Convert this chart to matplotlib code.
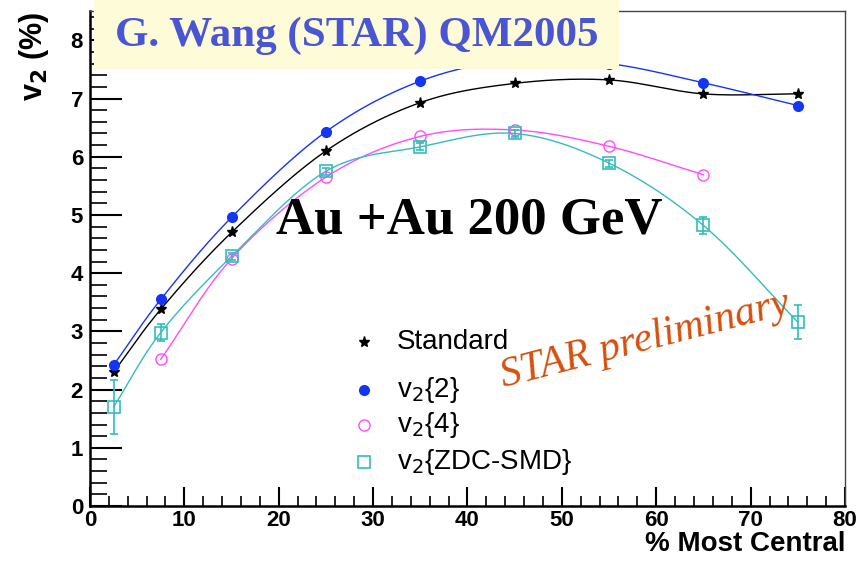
import matplotlib.pyplot as plt
from matplotlib.patches import Rectangle
import numpy as np

# centrality bins (% most central)
cent = [2.5, 7.5, 15, 25, 35, 45, 55, 65, 75]
v2_std = [2.30, 3.38, 4.70, 6.10, 6.93, 7.26, 7.32, 7.08, 7.08]
v2_2 = [2.42, 3.55, 4.96, 6.43, 7.30, 7.66, 7.60, 7.27, 6.88]
cent4 = [7.5, 15, 25, 35, 45, 55, 65]
v2_4 = [2.52, 4.25, 5.65, 6.35, 6.46, 6.18, 5.69]
v2_zdc = [1.70, 2.98, 4.29, 5.75, 6.17, 6.40, 5.89, 4.82, 3.16]
v2_zdc_err = [0.47, 0.15, 0.06, 0.06, 0.06, 0.06, 0.06, 0.15, 0.29]


def smooth(x, y, n=25):
    # Catmull-Rom curve through the points (like ROOT "C" option)
    x = np.asarray(x, float)
    y = np.asarray(y, float)
    px = np.concatenate([[2*x[0]-x[1]], x, [2*x[-1]-x[-2]]])
    py = np.concatenate([[2*y[0]-y[1]], y, [2*y[-1]-y[-2]]])
    xs, ys = [], []
    t = np.linspace(0, 1, n)
    for i in range(1, len(px)-2):
        for p, out in ((px, xs), (py, ys)):
            p0, p1, p2, p3 = p[i-1], p[i], p[i+1], p[i+2]
            out.extend(0.5*((2*p1) + (-p0+p2)*t + (2*p0-5*p1+4*p2-p3)*t**2
                            + (-p0+3*p1-3*p2+p3)*t**3))
    return xs, ys


fig = plt.figure(figsize=(8.57, 5.61), dpi=100)
ax = fig.add_axes([0.105, 0.098, 0.881, 0.882])

black = 'black'
blue = '#1535f5'
magenta = '#ff4cff'
cyan = '#35bcbc'

ax.plot(*smooth(cent, v2_std), color=black, lw=1)
ax.plot(*smooth(cent, v2_2), color=blue, lw=1)
ax.plot(*smooth(cent4, v2_4), color=magenta, lw=1)
ax.plot(*smooth(cent, v2_zdc), color=cyan, lw=1)

ax.plot(cent, v2_std, ls='none', marker='*', ms=8, color=black)
ax.plot(cent, v2_2, ls='none', marker='o', ms=7, color=blue)
ax.plot(cent4, v2_4, ls='none', marker='o', ms=8, mfc='none', mec=magenta, mew=1)
ax.errorbar(cent, v2_zdc, yerr=v2_zdc_err, ls='none', marker='s', ms=9,
            mfc='none', mec=cyan, mew=1.2, ecolor=cyan, elinewidth=1.2, capsize=3)

ax.set_xlim(0, 80)
ax.set_ylim(0, 8.5)
ax.set_xticks(np.arange(0, 81, 10))
ax.set_xticks(np.arange(0, 81, 2), minor=True)
ax.set_yticks(np.arange(0, 9, 1))
ax.set_yticks(np.arange(0, 8.5, 0.2), minor=True)
ax.tick_params(axis='y', which='major', direction='in', length=23, width=1.5, pad=5)
ax.tick_params(axis='y', which='minor', direction='in', length=12, width=1.2)
ax.tick_params(axis='x', which='major', direction='in', length=14, width=1.5, pad=3)
ax.tick_params(axis='x', which='minor', direction='in', length=7, width=1.2)
for lab in ax.get_xticklabels() + ax.get_yticklabels():
    lab.set_fontfamily('Liberation Sans')
    lab.set_fontweight('bold')
    lab.set_fontsize(16)
ax.spines['left'].set_linewidth(1.8)
ax.spines['bottom'].set_linewidth(1.8)
ax.spines['top'].set_linewidth(1)
ax.spines['right'].set_linewidth(1)
ax.spines['top'].set_color('#444444')
ax.spines['right'].set_color('#444444')

ax.set_xlabel('% Most Central', fontfamily='Liberation Sans', fontweight='bold',
              fontsize=20, loc='right', labelpad=0)
ax.set_ylabel('v$_\\mathbf{2}$ (%)', fontfamily='Liberation Sans', fontweight='bold',
              fontsize=22, loc='top', labelpad=14)

# legend
labels = ['Standard', 'v$_2${2}', 'v$_2${4}', 'v$_2${ZDC-SMD}']
leg_y = [2.81, 2.0, 1.39, 0.75]
ax.plot(29.0, leg_y[0], marker='*', ms=8, color=black)
ax.plot(29.0, leg_y[1], marker='o', ms=7, color=blue)
ax.plot(29.0, leg_y[2], marker='o', ms=8, mfc='none', mec=magenta)
ax.plot(29.0, leg_y[3], marker='s', ms=9, mfc='none', mec=cyan, mew=1.2)
for yy, lab in zip(leg_y, labels):
    ax.text(32.5, yy, lab, fontfamily='Liberation Sans', fontsize=20,
            va='center', ha='left')

ax.text(40.2, 4.9, 'Au +Au 200 GeV', fontfamily='Liberation Serif',
        fontweight='bold', fontsize=38, ha='center', va='center')
ax.text(58.8, 2.85, 'STAR preliminary', fontfamily='Liberation Serif',
        style='italic', fontsize=30, color='#d4500e', rotation=14.5,
        ha='center', va='center')

# title box on top of the frame
box = Rectangle((94/857, 1-69/561), 525/857, 69/561, transform=fig.transFigure,
                facecolor='#fefcd8', edgecolor='none', zorder=5)
fig.patches.append(box)
fig.text(357/857, 1-36/561, 'G. Wang (STAR) QM2005', fontfamily='Liberation Serif',
         fontweight='bold', fontsize=31, color='#4a55d4', ha='center', va='center',
         zorder=6)

fig.savefig('out.png', dpi=100)
